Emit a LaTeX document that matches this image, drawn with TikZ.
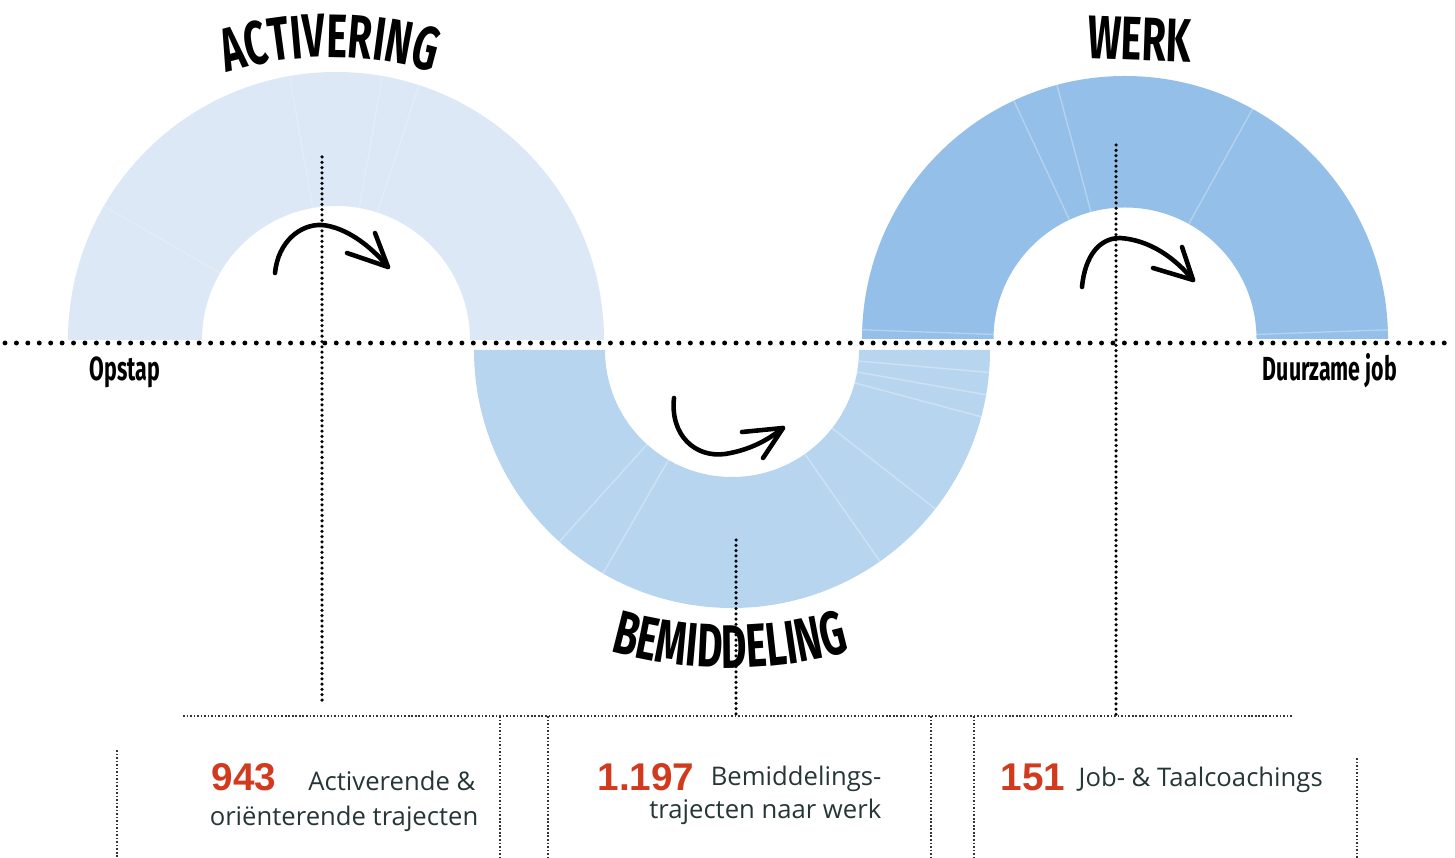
\documentclass[tikz,border=0pt]{standalone}
\usepackage{fontspec}
\setmainfont{Open Sans}
\newfontfamily\headfont[FakeStretch=0.64]{Fira Sans}
\newfontfamily\numfont{Liberation Sans}
\usetikzlibrary{decorations.text}
\definecolor{actblue}{HTML}{DCE8F5}
\definecolor{bemblue}{HTML}{B8D5F0}
\definecolor{werkblue}{HTML}{94BFE8}
\definecolor{numred}{HTML}{D23A1E}
\definecolor{txtgray}{HTML}{263636}
\newcommand{\headbig}{\headfont\bfseries\fontsize{17.5}{18}\selectfont}
\tikzstyle{bigdots} = [line width=1.4pt, line cap=round, dash pattern=on 0pt off 3.25pt]
\tikzstyle{middots} = [line width=1pt, line cap=round, dash pattern=on 0pt off 1.5pt]
\tikzstyle{finedots} = [line width=0.45pt, dash pattern=on 0.45pt off 0.55pt, black!80]
\tikzstyle{swoosh} = [line width=1.3pt, line cap=round, line join=round]
\tikzstyle{seam} = [white, opacity=0.3, line width=0.4pt]
\tikzstyle{heading} = [font=\headbig, inner sep=0pt]
\tikzstyle{phase} = [font=\headfont\bfseries\fontsize{9.5}{10}\selectfont, inner sep=0pt]
\tikzstyle{num} = [font=\numfont\bfseries\fontsize{11}{12}\selectfont, text=numred, inner sep=0pt]
\tikzstyle{desc} = [font=\fontsize{7.3}{8}\selectfont, text=txtgray, inner sep=0pt]
\begin{document}
\begin{tikzpicture}

\useasboundingbox (0,0) rectangle (14.55,-8.58);

% the three half rings
\fill[actblue] (0.68,-3.40) arc[start angle=180, end angle=0, radius=2.68]
  -- (4.70,-3.40) arc[start angle=0, end angle=180, radius=1.34] -- cycle;
\fill[bemblue] (4.74,-3.50) arc[start angle=180, end angle=360, radius=2.58]
  -- (8.59,-3.50) arc[start angle=0, end angle=-180, radius=1.27] -- cycle;
\fill[werkblue] (8.62,-3.39) arc[start angle=180, end angle=0, radius=2.63]
  -- (12.565,-3.39) arc[start angle=0, end angle=180, radius=1.315] -- cycle;

\foreach \a in {72,80,100,150}
  \draw[seam, opacity=0.2] (3.36,-3.40) ++(\a:1.34) -- ++(\a:1.34);
\foreach \a in {228,240,305,322,345,350,355}
  \draw[seam] (7.32,-3.50) ++(\a:1.27) -- ++(\a:1.31);
\foreach \a in {2,61,105,115,178}
  \draw[seam] (11.25,-3.39) ++(\a:1.315) -- ++(\a:1.315);

% curved arrows
\draw[swoosh] (2.75,-2.73) .. controls (2.78,-2.42) and (3.00,-2.24) .. (3.22,-2.25)
  .. controls (3.45,-2.27) and (3.70,-2.45) .. (3.88,-2.67);
\draw[swoosh] (3.47,-2.53) -- (3.88,-2.67) -- (3.75,-2.33);
\draw[swoosh] (6.74,-3.98) .. controls (6.70,-4.35) and (6.95,-4.58) .. (7.25,-4.54)
  .. controls (7.50,-4.50) and (7.68,-4.40) .. (7.83,-4.28);
\draw[swoosh] (7.42,-4.32) -- (7.83,-4.28) -- (7.63,-4.58);
\draw[swoosh] (10.82,-2.87) .. controls (10.85,-2.55) and (11.00,-2.38) .. (11.20,-2.38)
  .. controls (11.50,-2.40) and (11.75,-2.58) .. (11.93,-2.80);
\draw[swoosh] (11.53,-2.68) -- (11.93,-2.80) -- (11.82,-2.47);

% phase names
\path[decorate, decoration={text along path, text align=center,
  text={|\headbig|ACTIVERING}}] (1.02,-1.40) arc[start angle=130, end angle=50, radius=3.54];
\path[decorate, decoration={text along path, text align=center,
  text={|\headbig|BEMIDDELING}}] (4.47,-5.65) arc[start angle=230, end angle=310, radius=4.40];
\node (werk) [heading, rotate=-2] at (11.40,-0.39) {WERK};

\node (opstap) [phase, anchor=base] at (1.25,-3.81) {Opstap};
\node (duurzaam) [phase, anchor=base] at (13.30,-3.81) {Duurzame job};

\draw[bigdots] (0.05,-3.43) -- (14.55,-3.43);

% drops to the figures
\draw[middots] (3.22,-1.57) -- (3.22,-7.03);
\draw[middots] (7.36,-5.40) -- (7.36,-7.16);
\draw[middots] (11.16,-1.45) -- (11.16,-7.16);

% frame of the figures
\draw[finedots] (1.83,-7.16) -- (12.92,-7.16);
\draw[finedots] (1.17,-7.50) -- (1.17,-8.58);
\foreach \x in {5.00,5.48,9.31,9.74}
  \draw[finedots] (\x,-7.16) -- (\x,-8.58);
\draw[finedots] (13.57,-7.58) -- (13.57,-8.58);

\node (actnum) [num, anchor=base west] at (2.11,-7.90) {943};
\node (actline1) [desc, anchor=base east] at (4.76,-7.90) {Activerende \&};
\node (actline2) [desc, anchor=base east] at (4.79,-8.25) {oriënterende trajecten};
\node (bemnum) [num, anchor=base west] at (5.97,-7.90) {1.197};
\node (bemline1) [desc, anchor=base east] at (8.82,-7.85) {Bemiddelings-};
\node (bemline2) [desc, anchor=base east] at (8.82,-8.18) {trajecten naar werk};
\node (werknum) [num, anchor=base west] at (10.00,-7.90) {151};
\node (werkline) [desc, anchor=base west] at (10.78,-7.86) {Job- \& Taalcoachings};

\end{tikzpicture}
\end{document}
